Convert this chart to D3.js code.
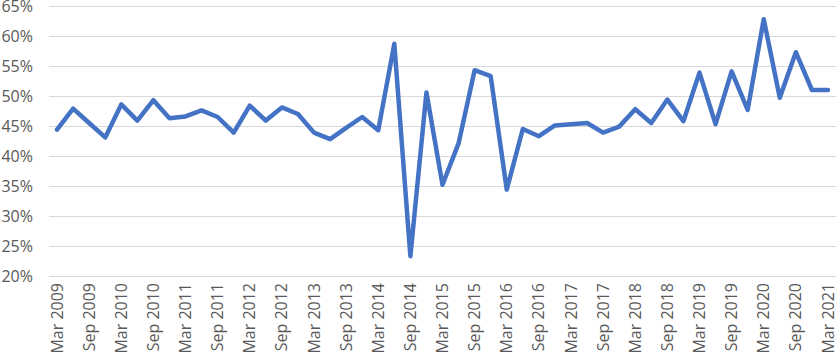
<!DOCTYPE html>
<html>
<head>
<meta charset="utf-8">
<script src="https://cdn.jsdelivr.net/npm/d3@7"></script>
<style>
  body { margin: 0; background: #fff; }
  svg { display: block; }
</style>
</head>
<body>
<div id="chart"></div>
<script>
// quarterly categories, Mar 2009 .. Mar 2021
const quarters = [
  "Mar 2009", "Jun 2009", "Sep 2009", "Dec 2009",
  "Mar 2010", "Jun 2010", "Sep 2010", "Dec 2010",
  "Mar 2011", "Jun 2011", "Sep 2011", "Dec 2011",
  "Mar 2012", "Jun 2012", "Sep 2012", "Dec 2012",
  "Mar 2013", "Jun 2013", "Sep 2013", "Dec 2013",
  "Mar 2014", "Jun 2014", "Sep 2014", "Dec 2014",
  "Mar 2015", "Jun 2015", "Sep 2015", "Dec 2015",
  "Mar 2016", "Jun 2016", "Sep 2016", "Dec 2016",
  "Mar 2017", "Jun 2017", "Sep 2017", "Dec 2017",
  "Mar 2018", "Jun 2018", "Sep 2018", "Dec 2018",
  "Mar 2019", "Jun 2019", "Sep 2019", "Dec 2019",
  "Mar 2020", "Jun 2020", "Sep 2020", "Dec 2020",
  "Mar 2021"
];

// percent values
const values = [
  44.4, 47.9, 45.5, 43.1,
  48.6, 45.9, 49.3, 46.3,
  46.6, 47.6, 46.5, 43.9,
  48.4, 45.9, 48.1, 47.0,
  43.9, 42.8, 44.7, 46.5,
  44.3, 58.7, 23.3, 50.6,
  35.2, 42.1, 54.3, 53.3,
  34.4, 44.5, 43.3, 45.1,
  45.3, 45.5, 43.9, 44.9,
  47.8, 45.5, 49.4, 45.8,
  53.9, 45.3, 54.1, 47.7,
  62.8, 49.7, 57.3, 51.0,
  51.0
];

const xTickLabels = [
  "Mar 2009", "Sep 2009", "Mar 2010", "Sep 2010", "Mar 2011", "Sep 2011",
  "Mar 2012", "Sep 2012", "Mar 2013", "Sep 2013", "Mar 2014", "Sep 2014",
  "Mar 2015", "Sep 2015", "Mar 2016", "Sep 2016", "Mar 2017", "Sep 2017",
  "Mar 2018", "Sep 2018", "Mar 2019", "Sep 2019", "Mar 2020", "Sep 2020",
  "Mar 2021"
];

const yTicks = [20, 25, 30, 35, 40, 45, 50, 55, 60, 65];

const width = 836;
const height = 359;
const plot = { left: 49, right: 836, top: 6, bottom: 276 };
const font = "'Open Sans', 'Noto Sans', sans-serif";
const textColor = "#595959";

const svg = d3.select("#chart")
  .append("svg")
  .attr("width", width)
  .attr("height", height);

const xScale = d3.scaleBand()
  .domain(quarters)
  .range([plot.left, plot.right]);

const yScale = d3.scaleLinear()
  .domain([20, 65])
  .range([plot.bottom, plot.top]);

const xPos = (d) => xScale(d) + xScale.bandwidth() / 2;

// gridlines
svg.append("g")
  .selectAll("line")
  .data(yTicks)
  .enter()
  .append("line")
  .attr("x1", plot.left)
  .attr("x2", plot.right)
  .attr("y1", (d) => Math.round(yScale(d)) + 0.5)
  .attr("y2", (d) => Math.round(yScale(d)) + 0.5)
  .attr("stroke", "#d9d9d9")
  .attr("stroke-width", 1);

// y axis
const yAxis = svg.append("g")
  .attr("transform", `translate(${plot.left},0)`)
  .call(d3.axisLeft(yScale)
    .tickValues(yTicks)
    .tickFormat((d) => d + "%")
    .tickSize(0)
    .tickPadding(16));
yAxis.select(".domain").remove();
yAxis.selectAll("text")
  .style("font-family", font)
  .style("font-size", "16px")
  .attr("fill", textColor);

// x axis
const xAxis = svg.append("g")
  .attr("transform", `translate(0,${plot.bottom})`)
  .call(d3.axisBottom(xScale)
    .tickValues(xTickLabels)
    .tickSize(0));
xAxis.select(".domain").remove();
xAxis.selectAll("text")
  .attr("transform", "rotate(-90)")
  .attr("text-anchor", "end")
  .attr("x", -7)
  .attr("y", 0)
  .attr("dy", "0.35em")
  .style("font-family", font)
  .style("font-size", "16px")
  .attr("fill", textColor);

// line
const line = d3.line()
  .x((d, i) => xPos(quarters[i]))
  .y((d) => yScale(d));

svg.append("path")
  .datum(values)
  .attr("d", line)
  .attr("fill", "none")
  .attr("stroke", "#4472c4")
  .attr("stroke-width", 4.5)
  .attr("stroke-linejoin", "round")
  .attr("stroke-linecap", "round");
</script>
</body>
</html>
